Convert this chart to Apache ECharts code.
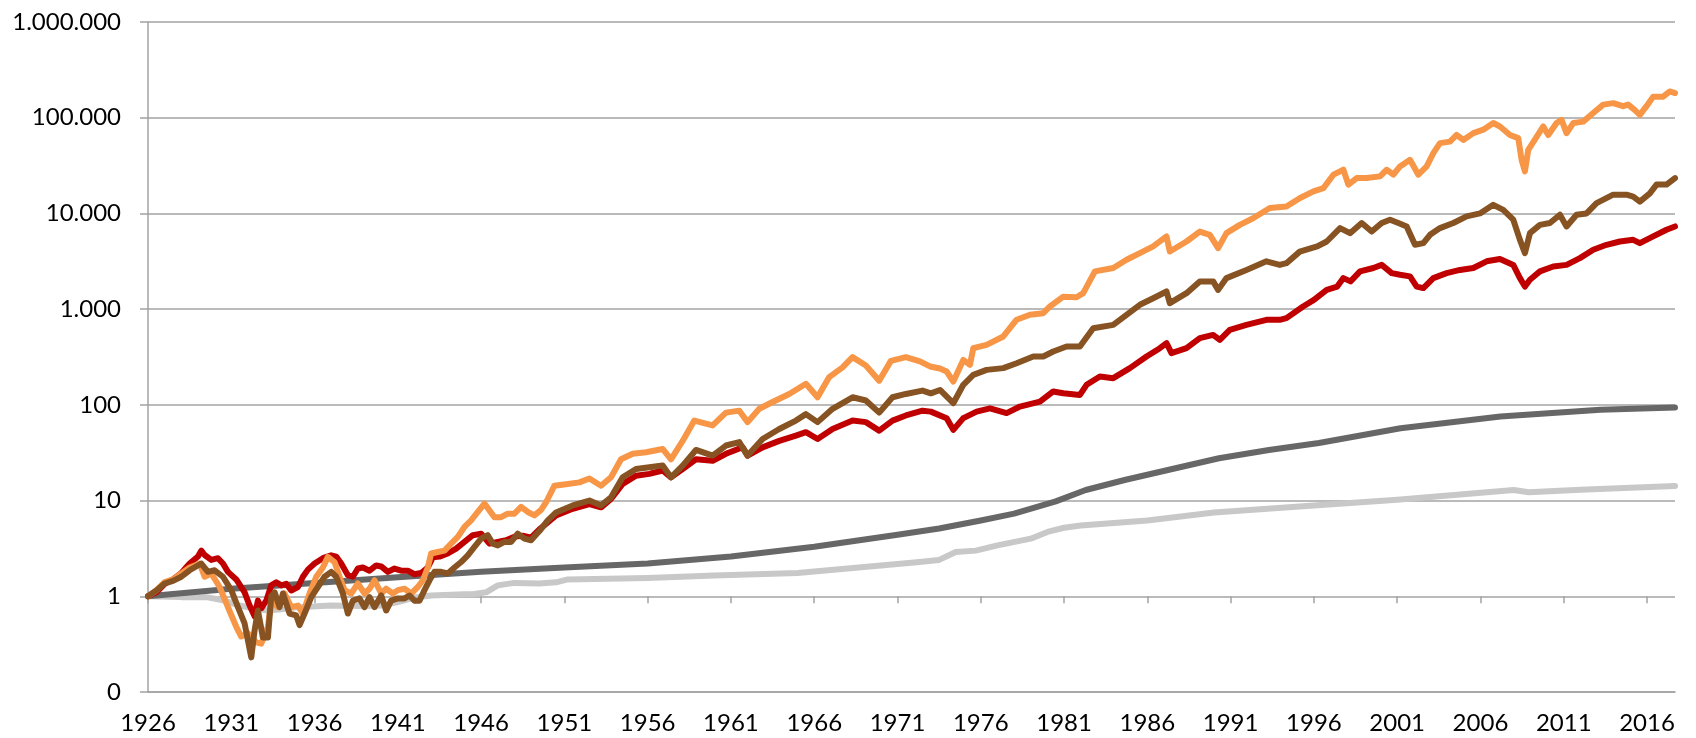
<!DOCTYPE html>
<html>
<head>
<meta charset="utf-8">
<script src="https://cdn.jsdelivr.net/npm/echarts@6/dist/echarts.min.js"></script>
<style>
  html, body { margin: 0; padding: 0; background: #fff; }
  #main { width: 1696px; height: 738px; }
</style>
</head>
<body>
<div id="main"></div>
<script>
// x axis tick labels
const yearTicks = [1926, 1931, 1936, 1941, 1946, 1951, 1956, 1961, 1966, 1971, 1976, 1981, 1986, 1991, 1996, 2001, 2006, 2011, 2016]

// red line
const redYears = [1926.0, 1926.5, 1927.0, 1927.5, 1928.0, 1928.5, 1929.0, 1929.2, 1929.4, 1929.8, 1930.2, 1930.5, 1930.8, 1931.3, 1931.8, 1932.1, 1932.4, 1932.6, 1932.8, 1933.1, 1933.4, 1933.7, 1934.0, 1934.3, 1934.6, 1935.0, 1935.3, 1935.6, 1936.0, 1936.5, 1937.0, 1937.3, 1937.6, 1938.0, 1938.3, 1938.6, 1938.9, 1939.3, 1939.7, 1940.0, 1940.4, 1940.8, 1941.2, 1941.6, 1942.0, 1942.4, 1942.8, 1943.1, 1943.5, 1944.0, 1944.5, 1945.0, 1945.5, 1946.0, 1946.5, 1947.0, 1947.5, 1948.0, 1948.5, 1949.0, 1949.5, 1950.0, 1950.5, 1951.5, 1952.5, 1953.2, 1953.8, 1954.5, 1955.3, 1956.1, 1956.9, 1957.4, 1958.1, 1958.9, 1959.9, 1960.7, 1961.7, 1962.0, 1962.9, 1963.9, 1964.9, 1965.5, 1966.2, 1967.1, 1968.3, 1969.1, 1969.9, 1970.7, 1971.5, 1972.5, 1973.0, 1973.95, 1974.35, 1974.95, 1975.75, 1976.55, 1977.55, 1978.35, 1979.55, 1980.35, 1980.95, 1981.95, 1982.35, 1983.15, 1983.95, 1984.95, 1985.95, 1986.75, 1987.15, 1987.45, 1988.35, 1989.15, 1989.95, 1990.35, 1990.95, 1991.95, 1993.15, 1993.95, 1994.35, 1995.35, 1996.0, 1996.77, 1997.4, 1997.77, 1998.2, 1998.77, 1999.57, 2000.07, 2000.67, 2001.17, 2001.77, 2002.17, 2002.57, 2003.17, 2003.97, 2004.77, 2005.57, 2006.37, 2007.17, 2007.97, 2008.37, 2008.67, 2008.97, 2009.57, 2010.37, 2011.17, 2011.97, 2012.77, 2013.57, 2014.37, 2015.17, 2015.57, 2016.37, 2017.17, 2017.68]
const redValues = [1.0, 1.1, 1.35, 1.5, 1.75, 2.2, 2.6, 3.0, 2.7, 2.4, 2.5, 2.2, 1.8, 1.5, 1.1, 0.8, 0.62, 0.9, 0.75, 0.9, 1.3, 1.4, 1.3, 1.35, 1.15, 1.25, 1.6, 1.9, 2.2, 2.5, 2.68, 2.6, 2.2, 1.66, 1.6, 1.95, 2.0, 1.85, 2.1, 2.05, 1.8, 1.95, 1.85, 1.85, 1.7, 1.75, 2.0, 2.55, 2.6, 2.8, 3.15, 3.7, 4.35, 4.5, 3.55, 3.7, 3.85, 4.2, 4.3, 4.1, 5.0, 5.9, 7.0, 8.2, 9.2, 8.5, 10.4, 14.9, 18.2, 19, 20.6, 17.5, 21.4, 27, 26, 30.8, 36, 29.5, 36, 42, 47.8, 51.8, 44, 56, 68.5, 66, 53.8, 68.5, 77.5, 87, 85, 72.6, 54.8, 72.6, 85, 92, 82, 96, 108, 138, 132, 127, 162, 198, 190, 242, 320, 391, 441, 347, 391, 497, 538, 477, 608, 685, 773, 773, 805, 1067, 1250, 1590, 1720, 2110, 1950, 2480, 2690, 2900, 2380, 2290, 2200, 1720, 1660, 2110, 2380, 2570, 2690, 3160, 3340, 2900, 2110, 1720, 2030, 2480, 2790, 2900, 3410, 4170, 4700, 5090, 5300, 4890, 5750, 6760, 7310]

// brown line
const brownYears = [1926.0, 1926.5, 1927.0, 1927.5, 1928.0, 1928.5, 1929.2, 1929.6, 1930.0, 1930.5, 1931.0, 1931.4, 1931.8, 1932.2, 1932.4, 1932.6, 1932.9, 1933.2, 1933.4, 1933.6, 1933.9, 1934.1, 1934.5, 1934.9, 1935.1, 1935.4, 1935.8, 1936.2, 1936.6, 1937.0, 1937.3, 1937.7, 1938.0, 1938.3, 1938.7, 1939.0, 1939.3, 1939.6, 1940.0, 1940.3, 1940.6, 1941.0, 1941.4, 1941.7, 1942.0, 1942.3, 1942.6, 1942.9, 1943.2, 1943.6, 1944.0, 1944.4, 1944.8, 1945.2, 1945.6, 1946.0, 1946.4, 1946.7, 1947.0, 1947.4, 1947.8, 1948.2, 1948.6, 1949.0, 1949.5, 1950.0, 1950.5, 1951.5, 1952.5, 1953.2, 1953.8, 1954.5, 1955.3, 1956.1, 1956.9, 1957.4, 1958.1, 1958.9, 1959.9, 1960.7, 1961.5, 1962.0, 1962.9, 1963.9, 1964.9, 1965.5, 1966.2, 1967.1, 1968.3, 1969.1, 1969.9, 1970.7, 1971.5, 1972.5, 1973.0, 1973.55, 1974.35, 1974.95, 1975.55, 1976.35, 1977.35, 1978.15, 1979.15, 1979.75, 1980.35, 1981.15, 1981.95, 1982.75, 1983.95, 1984.75, 1985.55, 1986.35, 1987.15, 1987.35, 1988.35, 1989.15, 1989.95, 1990.25, 1990.75, 1991.95, 1993.15, 1993.95, 1994.35, 1995.15, 1996.2, 1996.77, 1997.57, 1998.17, 1998.87, 1999.47, 2000.07, 2000.57, 2001.07, 2001.57, 2002.07, 2002.57, 2002.97, 2003.57, 2004.37, 2005.17, 2005.97, 2006.77, 2007.37, 2007.97, 2008.37, 2008.67, 2008.97, 2009.57, 2010.17, 2010.77, 2011.17, 2011.77, 2012.37, 2012.97, 2013.97, 2014.77, 2015.17, 2015.57, 2016.17, 2016.57, 2017.17, 2017.68]
const brownValues = [1.0, 1.15, 1.36, 1.45, 1.6, 1.87, 2.2, 1.8, 1.87, 1.6, 1.16, 0.77, 0.52, 0.23, 0.44, 0.71, 0.37, 0.37, 1.0, 1.1, 0.77, 1.07, 0.66, 0.63, 0.5, 0.66, 0.98, 1.25, 1.6, 1.8, 1.6, 1.07, 0.66, 0.9, 0.95, 0.77, 0.98, 0.77, 1.02, 0.71, 0.9, 0.95, 0.95, 1.02, 0.9, 0.9, 1.16, 1.47, 1.8, 1.8, 1.73, 2.0, 2.28, 2.68, 3.28, 4.0, 4.35, 3.55, 3.4, 3.7, 3.7, 4.5, 4.0, 3.85, 4.8, 6.2, 7.5, 8.9, 10, 8.9, 10.8, 17.5, 21.4, 22.3, 23.2, 17.5, 23.2, 33.8, 29.5, 37.6, 40.8, 29.5, 44, 56, 68.5, 80, 66, 91, 120, 111, 83, 120, 130, 141, 132, 143, 104, 162, 206, 232, 242, 272, 320, 320, 361, 407, 407, 631, 685, 873, 1110, 1300, 1530, 1155, 1470, 1950, 1950, 1590, 2110, 2570, 3160, 2900, 3020, 3990, 4520, 5090, 7030, 6220, 7940, 6470, 7940, 8600, 7940, 7310, 4700, 4890, 5980, 7030, 7940, 9330, 10000, 12300, 10900, 8600, 5300, 3850, 6220, 7590, 7940, 9680, 7310, 9680, 10000, 12800, 15700, 15700, 15000, 13300, 16200, 20000, 20000, 23400]

// orange line
const orangeYears = [1926.0, 1926.5, 1927.0, 1927.5, 1928.0, 1928.5, 1929.1, 1929.4, 1929.8, 1930.3, 1930.8, 1931.3, 1931.6, 1932.0, 1932.5, 1932.8, 1933.2, 1933.4, 1933.8, 1934.2, 1934.6, 1935.0, 1935.3, 1935.7, 1936.1, 1936.5, 1936.8, 1937.2, 1937.5, 1937.8, 1938.2, 1938.6, 1939.0, 1939.3, 1939.6, 1940.0, 1940.3, 1940.7, 1941.0, 1941.4, 1941.8, 1942.2, 1942.5, 1942.8, 1943.0, 1943.4, 1943.8, 1944.2, 1944.6, 1945.0, 1945.4, 1945.8, 1946.2, 1946.5, 1946.8, 1947.2, 1947.6, 1948.0, 1948.4, 1948.8, 1949.2, 1949.6, 1949.9, 1950.4, 1951.1, 1951.9, 1952.5, 1953.2, 1953.8, 1954.4, 1955.1, 1955.9, 1956.9, 1957.4, 1958.1, 1958.8, 1959.9, 1960.7, 1961.5, 1962.0, 1962.7, 1963.5, 1964.5, 1965.5, 1966.2, 1966.9, 1967.7, 1968.3, 1969.1, 1969.9, 1970.6, 1971.5, 1972.35, 1972.95, 1973.55, 1973.95, 1974.35, 1974.95, 1975.35, 1975.55, 1976.35, 1977.35, 1978.15, 1978.95, 1979.75, 1980.15, 1980.95, 1981.75, 1982.15, 1982.85, 1983.95, 1984.75, 1985.55, 1986.35, 1987.15, 1987.35, 1988.35, 1989.15, 1989.75, 1990.25, 1990.75, 1991.55, 1992.35, 1993.35, 1994.35, 1995.17, 1995.97, 1996.57, 1997.17, 1997.77, 1998.07, 1998.57, 1999.17, 1999.97, 2000.37, 2000.77, 2001.17, 2001.77, 2002.27, 2002.77, 2003.17, 2003.57, 2004.17, 2004.57, 2004.97, 2005.57, 2006.17, 2006.77, 2007.17, 2007.77, 2008.27, 2008.47, 2008.67, 2008.87, 2009.37, 2009.77, 2010.07, 2010.57, 2010.87, 2011.17, 2011.57, 2012.17, 2012.77, 2013.37, 2013.97, 2014.57, 2014.87, 2015.27, 2015.57, 2015.97, 2016.37, 2016.97, 2017.37, 2017.68]
const orangeValues = [1.0, 1.15, 1.41, 1.5, 1.73, 2.0, 2.2, 1.6, 1.73, 1.25, 0.77, 0.48, 0.38, 0.41, 0.33, 0.32, 0.48, 0.9, 0.77, 1.07, 0.77, 0.8, 0.66, 1.07, 1.6, 2.0, 2.58, 2.28, 1.6, 1.16, 1.07, 1.36, 1.07, 1.2, 1.47, 1.07, 1.2, 1.07, 1.16, 1.2, 1.07, 1.25, 1.47, 2.0, 2.8, 2.9, 3.0, 3.55, 4.17, 5.3, 6.2, 7.6, 9.3, 7.9, 6.7, 6.7, 7.3, 7.3, 8.6, 7.6, 7.0, 8.0, 9.6, 14.3, 14.8, 15.5, 17, 14.3, 17.5, 27, 30.8, 32, 34.6, 27, 42, 68.5, 61, 83, 87, 66, 91, 107, 130, 166, 120, 195, 246, 315, 258, 179, 288, 315, 285, 252, 240, 223, 175, 295, 262, 391, 424, 518, 775, 873, 907, 1066, 1350, 1333, 1470, 2480, 2690, 3280, 3850, 4520, 5750, 4000, 5090, 6470, 5980, 4340, 6220, 7590, 8900, 11400, 11800, 14500, 17000, 18400, 25400, 28600, 20000, 23400, 23400, 24400, 28600, 25400, 31000, 36300, 25400, 31000, 42600, 54300, 56300, 66000, 58600, 69000, 75000, 88000, 81000, 66000, 61200, 36300, 27500, 46200, 63000, 81000, 66000, 88000, 95000, 69000, 88000, 91000, 112000, 137000, 142000, 132000, 137000, 120000, 107000, 132000, 166000, 166000, 188000, 181000]

// dark grey line
const darkYears = [1926, 1931, 1936, 1941, 1946, 1951, 1956, 1961, 1966, 1971, 1973.5, 1976, 1978, 1980.5, 1982.3, 1984.7, 1987.3, 1990.3, 1993.3, 1996.3, 2001.2, 2007.2, 2013.2, 2017.68]
const darkValues = [1.0, 1.2, 1.38, 1.58, 1.8, 2.0, 2.2, 2.6, 3.3, 4.4, 5.1, 6.2, 7.3, 9.8, 12.9, 16.5, 21, 27.7, 33.8, 40, 57, 75.5, 88.7, 93.8]

// light grey line
const lightYears = [1926, 1928, 1929.5, 1930.5, 1931.5, 1932.5, 1933.2, 1934, 1935, 1937, 1939, 1940, 1941, 1942, 1943, 1945, 1945.5, 1946.3, 1947, 1948, 1949.5, 1950.5, 1951.2, 1956, 1960, 1965, 1968, 1970, 1972, 1973.5, 1974.5, 1975.7, 1977, 1979, 1980, 1981, 1982, 1986, 1990, 1996, 2001, 2008, 2008.9, 2012, 2017.68]
const lightValues = [1.0, 0.98, 0.98, 0.91, 0.8, 0.74, 0.71, 0.73, 0.77, 0.8, 0.79, 0.8, 0.87, 0.97, 1.02, 1.05, 1.05, 1.1, 1.3, 1.38, 1.36, 1.4, 1.5, 1.55, 1.65, 1.75, 1.95, 2.1, 2.25, 2.4, 2.9, 3.0, 3.4, 4.0, 4.7, 5.2, 5.5, 6.2, 7.5, 8.9, 10.2, 12.9, 12.2, 13.0, 14.2]

const pairs = (xs, ys) => xs.map((x, i) => [x, ys[i]])

const gridColor = '#a3a3a3'
const font = 'Lato'

const lineSeries = (name, xs, ys, color) => ({
  name: name,
  type: 'line',
  data: pairs(xs, ys),
  showSymbol: false,
  symbol: 'none',
  smooth: false,
  animation: false,
  xAxisIndex: 0,
  yAxisIndex: 0,
  lineStyle: { color: color, width: 6, cap: 'round', join: 'round' },
  itemStyle: { color: color }
})

const fmt = v => {
  if (v < 0.5) return '0'
  return String(Math.round(v)).replace(/\B(?=(\d{3})+(?!\d))/g, '.')
}

let myChart = echarts.init(document.getElementById('main'), null, { renderer: 'canvas' })

let option = {
  backgroundColor: '#fff',
  animation: false,
  grid: [
    { left: 148, right: 21, top: 22, bottom: 46 },
    // helper grid: its bottom edge sits on the "1" line, used for the x ticks
    { left: 148, right: 21, top: 22, bottom: 141.7 }
  ],
  xAxis: [
    {
      type: 'value',
      gridIndex: 0,
      min: 1926,
      max: 2017.68,
      splitLine: { show: false },
      axisLine: { show: true, lineStyle: { color: gridColor, width: 1.5 } },
      axisTick: { show: false },
      axisLabel: {
        customValues: yearTicks,
        formatter: v => String(Math.round(v)),
        color: '#000',
        fontFamily: font,
        fontSize: 24,
        margin: 19
      }
    },
    {
      type: 'value',
      gridIndex: 1,
      min: 1926,
      max: 2017.68,
      splitLine: { show: false },
      axisLine: { show: false },
      axisLabel: { show: false },
      axisTick: {
        show: true,
        customValues: yearTicks,
        length: 7,
        lineStyle: { color: gridColor, width: 1.5 }
      }
    }
  ],
  yAxis: [
    {
      type: 'log',
      gridIndex: 0,
      logBase: 10,
      min: 0.1,
      max: 1000000,
      interval: 1,
      axisLine: { show: true, lineStyle: { color: gridColor, width: 1.5 } },
      axisTick: { show: true, length: 8, lineStyle: { color: gridColor, width: 1.5 } },
      splitLine: { show: true, lineStyle: { color: gridColor, width: 1.5 } },
      axisLabel: {
        formatter: fmt,
        color: '#000',
        fontFamily: font,
        fontSize: 24,
        margin: 27
      }
    },
    {
      type: 'value',
      gridIndex: 1,
      show: false
    }
  ],
  series: [
    lineSeries('light', lightYears, lightValues, '#c8c8c8'),
    lineSeries('dark', darkYears, darkValues, '#676767'),
    lineSeries('red', redYears, redValues, '#c00000'),
    lineSeries('orange', orangeYears, orangeValues, '#f79646'),
    lineSeries('brown', brownYears, brownValues, '#875322')
  ]
}

myChart.setOption(option)
</script>
</body>
</html>
